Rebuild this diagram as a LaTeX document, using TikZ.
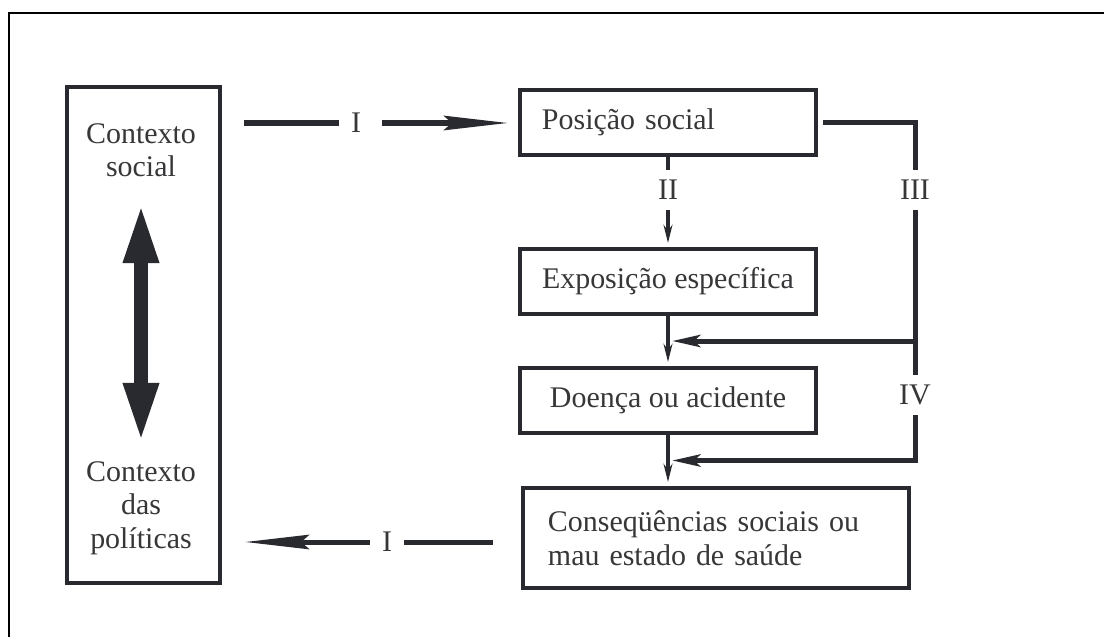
\documentclass[tikz,border=0pt]{standalone}
\usepackage{fontspec}
\setmainfont{Liberation Serif}
\usetikzlibrary{arrows.meta,calc}
\definecolor{ink}{RGB}{40,42,48}
\definecolor{txt}{RGB}{55,55,58}
\tikzset{
  box/.style={draw=ink, line width=0.1cm, minimum width=7.4cm, minimum height=1.625cm,
    text=txt, font=\fontsize{21.3}{23.8}\selectfont},
  lbl/.style={text=txt, font=\fontsize{21.3}{23.8}\selectfont, inner xsep=0.3cm, inner ysep=0.25cm},
  heavy/.style={draw=ink, line width=0.125cm, line join=miter},
  fine/.style={draw=ink, line width=0.08cm},
  bigtip/.style={-{Stealth[length=1.6cm,width=0.36cm,inset=0.2cm]}},
  sidetip/.style={-{Stealth[length=0.7cm,width=0.3cm,inset=0.15cm]}, shorten >=0.1cm},
  smalltip/.style={-{Stealth[length=0.45cm,width=0.22cm]}, shorten >=0.1cm},
  bothtip/.style={draw=ink, line width=0.35cm,
    arrows={Triangle[length=1.5cm,width=0.8cm]-Triangle[length=1.5cm,width=0.8cm]}}
}
\begin{document}
\begin{tikzpicture}[x=0.025cm, y=-0.025cm]
  \useasboundingbox (0,0) rectangle (1104,637);
  \clip (0,0) rectangle (1104,637);
  \draw[black, line width=0.04cm] (9,13) rectangle (1130,660);

  \node[box, minimum width=3.825cm, minimum height=12.4cm] (ctx) at (143.5,335) {};
  \node[lbl, align=center] (soc) at (141,150) {Contexto\\social};
  \node[lbl, align=center] (pol) at (141,508) {Contexto\\das\\políticas};
  \node[box, text width=6.3cm, inner xsep=0.55cm, align=left] (pos) at (668,122.5) {Posição social};
  \node[box] (expo) at (668,281.5) {Exposição específica};
  \node[box] (doenca) at (668,400.5) {Doença ou acidente};
  \node[box, minimum width=9.65cm, minimum height=2.5cm, text width=8.4cm, inner xsep=0.625cm,
    align=left] (cons) at (716,538) {Conseqüências sociais ou\\mau estado de saúde};

  \node[lbl] (i1) at (356,123) {I};
  \node[lbl] (i2) at (387,542) {I};
  \node[lbl] (iii) at (915,190) {III};
  \node[lbl] (ii) at (pos.south |- iii) {II};
  \node[lbl] (iv) at (915,395) {IV};

  \coordinate (m1) at ($(expo.south)!.5!(doenca.north)$);
  \coordinate (m2) at ($(doenca.south)!.5!(doenca.south |- cons.north)$);
  \coordinate (dtop) at (141,203);
  \coordinate (dbot) at (141,443);

  \draw[heavy] (i1.west) -- ++(-95,0);
  \draw[heavy, bigtip, shorten >=0.25cm] ($(i1.east)+(9,0)$) -- (i1 -| pos.west);
  \draw[heavy, shorten >=0.7cm] (i2.east) -- (i2 -| cons.west);
  \draw[heavy, bigtip, shorten >=0.575cm] (i2.west) -- (i2 -| ctx.east);

  \draw[heavy] ($(pos.east)+(5,0)$) -| (iii.north);
  \draw[heavy] (iii.south) -- (iv.north);
  \draw[heavy, sidetip] (iv.south) |- (m2);
  \draw[heavy, sidetip] (iii |- m1) -- (m1);

  \draw[fine] (pos.south) -- (ii.north);
  \draw[fine, smalltip] (ii.south) -- (expo.north);
  \draw[fine, smalltip] (expo.south) -- (doenca.north);
  \draw[fine, smalltip] (doenca.south) -- (doenca.south |- cons.north);

  \draw[bothtip] (dtop) -- (dbot);
\end{tikzpicture}
\end{document}
